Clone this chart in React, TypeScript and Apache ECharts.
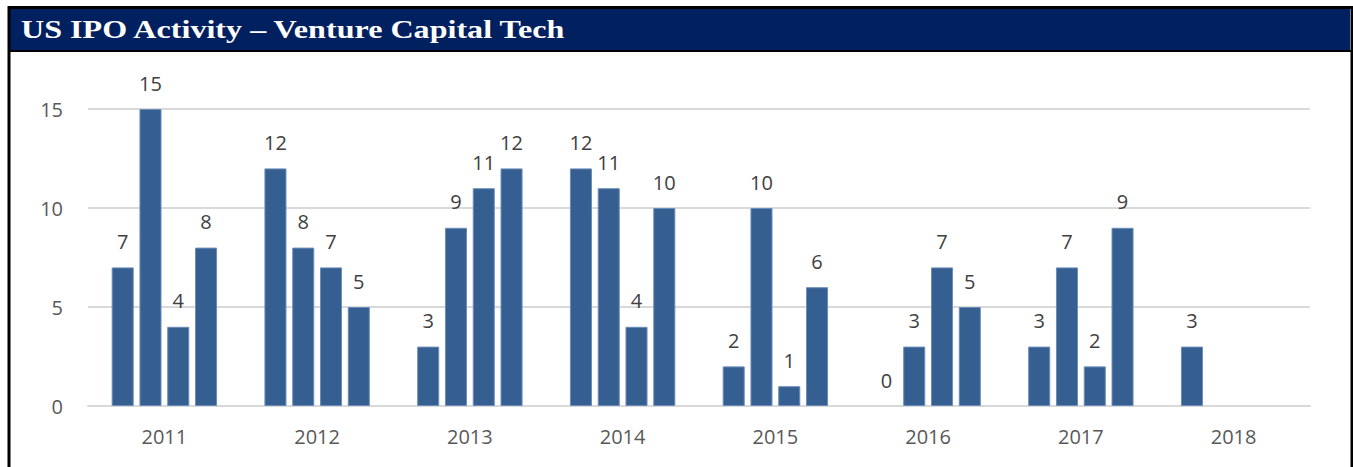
import React, { useEffect, useRef } from "react";
import * as echarts from "echarts";

const years = ["2011", "2012", "2013", "2014", "2015", "2016", "2017", "2018"];
const q1 = [7, 12, 3, 12, 2, 0, 3, 3];
const q2 = [15, 8, 9, 11, 10, 3, 7, null];
const q3 = [4, 7, 11, 4, 1, 7, 2, null];
const q4 = [8, 5, 12, 10, 6, 5, 9, null];
const yTicks = [0, 5, 10, 15];
const title = "US IPO Activity – Venture Capital Tech";

export default function App() {
  const ref = useRef<HTMLDivElement>(null);
  useEffect(() => {
    if (!ref.current) return;
    const chart = echarts.init(ref.current, null, { renderer: "svg" });
    const barColor = "#365f91";
    const mk = (name: string, data: (number | null)[]) => ({
      name,
      type: "bar",
      data: data.map((v) =>
        v === 0 ? { value: v, itemStyle: { borderWidth: 0, opacity: 0 } } : v
      ),
      barGap: "26%",
      barCategoryGap: "31%",
      itemStyle: { color: barColor, borderColor: "#6c8dba", borderWidth: 1 },
      label: {
        show: true,
        position: "top",
        distance: 16,
        color: "#404040",
        fontFamily: "Open Sans",
        fontSize: 20,
        opacity: 1,
      },
    });
    chart.setOption({
      animation: false,
      backgroundColor: "#ffffff",
      grid: { left: 88, right: 43, top: 109, bottom: 467 - 406, containLabel: false },
      xAxis: {
        type: "category",
        data: years,
        axisLine: { show: true, lineStyle: { color: "#d9d9d9", width: 2 } },
        axisTick: { show: false },
        axisLabel: { color: "#595959", fontFamily: "Open Sans", fontSize: 20, margin: 20 },
      },
      yAxis: {
        type: "value",
        min: 0,
        max: yTicks[yTicks.length - 1],
        interval: 5,
        axisLine: { show: false },
        axisTick: { show: false },
        splitLine: { lineStyle: { color: "#d9d9d9", width: 2 } },
        axisLabel: { color: "#595959", fontFamily: "Open Sans", fontSize: 20, margin: 25 },
      },
      series: [mk("Q1", q1), mk("Q2", q2), mk("Q3", q3), mk("Q4", q4)],
      graphic: [
        {
          type: "rect",
          shape: { x: 9, y: 7.5, width: 1343, height: 470 },
          style: { fill: "none", stroke: "#000000", lineWidth: 3 },
          z: 10,
        },
        {
          type: "rect",
          shape: { x: 10, y: 9, width: 1340, height: 41 },
          style: { fill: "#002060" },
          z: 9,
        },
        {
          type: "line",
          shape: { x1: 9, y1: 51, x2: 1352, y2: 51 },
          style: { stroke: "#000000", lineWidth: 2 },
          z: 10,
        },
        {
          type: "text",
          x: 21,
          y: 29,
          scaleX: 1.235,
          style: {
            text: title,
            fill: "#ffffff",
            font: "bold 26px 'Liberation Serif'",
            textVerticalAlign: "middle",
          },
          z: 11,
        },
      ],
    });
    return () => chart.dispose();
  }, []);
  return (
    <div
      ref={ref}
      style={{ position: "fixed", left: 0, top: 0, width: 1353, height: 467 }}
    />
  );
}
